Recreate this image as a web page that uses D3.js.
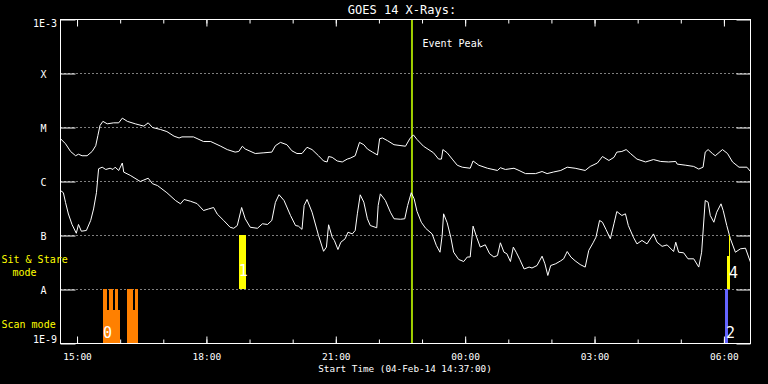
<!DOCTYPE html>
<html>
<head>
<meta charset="utf-8">
<script src="https://cdn.jsdelivr.net/npm/d3@7"></script>
<style>
  body { margin: 0; background: #000; }
  svg { display: block; }
  text { font-family: "DejaVu Sans Mono", monospace; fill: #fff; }
</style>
</head>
<body>
<svg id="chart" width="768" height="384"></svg>
<script>
// window of the plot (04-Feb-14 14:37 .. 05-Feb-14 06:37)
const startTime = '14:37';
const endTime = '06:37';
const eventPeak = '22:46';

// long channel (1-8 A), upper curve
const longTimes = [
  '14:37','14:44','14:51','14:58','15:02','15:07','15:14','15:21','15:26','15:29',
  '15:32','15:36','15:42','15:51','15:58','16:03','16:10','16:21','16:33','16:39',
  '16:45','16:56','17:05','17:15','17:22','17:26','17:42','17:56','18:06','18:20',
  '18:29','18:40','18:45','18:50','18:54','19:08','19:20','19:31','19:36','19:43',
  '19:52','19:59','20:06','20:13','20:20','20:27','20:36','20:43','20:48','20:50',
  '20:55','21:02','21:09','21:16','21:20','21:27','21:33','21:39','21:44','21:51',
  '21:58','22:01','22:05','22:12','22:21','22:37','22:43','22:48','22:53','23:02',
  '23:16','23:23','23:27','23:29','23:35','23:42','23:49','23:56','00:07','00:11',
  '00:19','00:31','00:45','00:49','00:56','01:08','01:15','01:24','01:38','01:47',
  '01:54','02:03','02:13','02:22','02:33','02:47','02:54','03:04','03:11','03:20',
  '03:27','03:31','03:38','03:44','03:50','03:59','04:11','04:22','04:32','04:43',
  '04:53','04:55','05:07','05:18','05:25','05:31','05:34','05:38','05:44','05:48',
  '05:58','06:05','06:12','06:21','06:32','06:37'
];
const longFlux = [
  6.2e-6, 5.0e-6, 3.6e-6, 3.0e-6, 3.2e-6, 3.0e-6, 3.0e-6, 3.6e-6, 4.6e-6, 7.1e-6,
  1.09e-5, 1.3e-5, 1.17e-5, 1.22e-5, 1.22e-5, 1.49e-5, 1.3e-5, 1.17e-5, 1.06e-5, 1.22e-5,
  1.0e-5, 9.2e-6, 8.4e-6, 6.9e-6, 6.4e-6, 6.7e-6, 6.7e-6, 5.5e-6, 5.5e-6, 4.5e-6,
  3.9e-6, 3.5e-6, 3.6e-6, 4.5e-6, 4.0e-6, 3.3e-6, 3.4e-6, 3.5e-6, 4.6e-6, 5.3e-6,
  4.8e-6, 3.7e-6, 3.3e-6, 3.3e-6, 4.3e-6, 3.9e-6, 3.0e-6, 2.4e-6, 2.3e-6, 2.9e-6,
  2.8e-6, 2.4e-6, 2.3e-6, 2.6e-6, 2.7e-6, 3.0e-6, 5.3e-6, 4.8e-6, 4.0e-6, 3.5e-6,
  3.1e-6, 6.2e-6, 6.4e-6, 5.7e-6, 4.8e-6, 4.5e-6, 6.2e-6, 7.3e-6, 6.0e-6, 4.5e-6,
  3.4e-6, 2.6e-6, 2.6e-6, 3.9e-6, 3.4e-6, 2.6e-6, 2.0e-6, 1.84e-6, 1.76e-6, 2.4e-6,
  2.0e-6, 1.76e-6, 1.6e-6, 1.8e-6, 1.67e-6, 1.76e-6, 1.6e-6, 1.4e-6, 1.4e-6, 1.53e-6,
  1.4e-6, 1.5e-6, 1.6e-6, 1.84e-6, 1.76e-6, 1.6e-6, 1.9e-6, 2.2e-6, 2.9e-6, 2.45e-6,
  2.8e-6, 3.5e-6, 3.6e-6, 3.9e-6, 3.3e-6, 2.6e-6, 2.3e-6, 2.55e-6, 2.35e-6, 2.3e-6,
  2.35e-6, 2.1e-6, 2.0e-6, 1.9e-6, 1.7e-6, 1.84e-6, 3.5e-6, 3.9e-6, 3.3e-6, 3.0e-6,
  3.9e-6, 3.3e-6, 2.3e-6, 1.84e-6, 1.84e-6, 1.53e-6
];

// short channel (0.5-4 A), lower curve
const shortTimes = [
  '14:37','14:41','14:44','14:48','14:53','14:59','15:02','15:06','15:13','15:19',
  '15:23','15:27','15:30','15:35','15:40','15:46','15:50','15:53','15:58','16:03',
  '16:05','16:14','16:28','16:39','16:45','16:52','17:05','17:17','17:24','17:29',
  '17:38','17:47','17:56','18:03','18:10','18:15','18:24','18:33','18:38','18:43',
  '18:49','18:54','19:01','19:11','19:18','19:25','19:31','19:36','19:41','19:48',
  '19:57','20:04','20:08','20:13','20:16','20:20','20:27','20:36','20:43','20:47',
  '20:50','20:55','20:58','21:03','21:07','21:13','21:17','21:23','21:27','21:30',
  '21:34','21:39','21:44','21:48','21:57','21:59','22:02','22:09','22:16','22:21',
  '22:30','22:36','22:40','22:45','22:49','22:53','22:59','23:05','23:14','23:20',
  '23:25','23:28','23:30','23:35','23:40','23:44','23:51','23:58','00:03','00:07',
  '00:11','00:16','00:21','00:28','00:34','00:40','00:45','00:49','00:54','00:58',
  '01:03','01:07','01:11','01:16','01:22','01:29','01:33','01:40','01:47','01:51',
  '01:55','01:59','02:06','02:13','02:17','02:22','02:27','02:33','02:40','02:47',
  '02:52','02:58','03:02','03:07','03:11','03:16','03:22','03:27','03:31','03:38',
  '03:43','03:47','03:54','03:59','04:06','04:13','04:22','04:27','04:34','04:41',
  '04:50','04:53','04:57','05:04','05:10','05:18','05:25','05:29','05:34','05:38',
  '05:41','05:46','05:50','05:56','05:59','06:04','06:09','06:16','06:23','06:30',
  '06:37'
];
const shortFlux = [
  6.8e-7, 6.2e-7, 4.1e-7, 2.5e-7, 1.6e-7, 1.1e-7, 1.6e-7, 1.2e-7, 1.24e-7, 1.9e-7,
  3.1e-7, 6.2e-7, 1.72e-6, 1.84e-6, 1.67e-6, 1.76e-6, 1.67e-6, 1.84e-6, 1.6e-6, 2.2e-6,
  1.49e-6, 1.3e-6, 1.0e-6, 1.15e-6, 9.1e-7, 8.4e-7, 6.2e-7, 4.45e-7, 3.86e-7, 4.64e-7,
  4.3e-7, 3.9e-7, 2.9e-7, 3.1e-7, 3.3e-7, 2.5e-7, 1.9e-7, 1.42e-7, 1.36e-7, 1.53e-7,
  3.3e-7, 2.04e-7, 1.42e-7, 1.36e-7, 1.65e-7, 1.6e-7, 1.9e-7, 4.1e-7, 5.7e-7, 4.45e-7,
  2.35e-7, 1.53e-7, 1.49e-7, 1.3e-7, 3.6e-7, 4.64e-7, 2.7e-7, 1.0e-7, 5.1e-8, 6.1e-8,
  1.58e-7, 9.3e-8, 8.1e-8, 5.5e-8, 7.5e-8, 8.7e-8, 1.15e-7, 1.07e-7, 1.24e-7, 2.52e-7,
  5.67e-7, 4.14e-7, 2.04e-7, 1.53e-7, 1.39e-7, 3.6e-7, 5.9e-7, 4.45e-7, 2.7e-7, 2.04e-7,
  2.0e-7, 2.04e-7, 3.6e-7, 6.2e-7, 4.78e-7, 2.8e-7, 1.76e-7, 1.36e-7, 1.07e-7, 6.5e-8,
  4.9e-8, 1.0e-7, 2.52e-7, 1.72e-7, 9.3e-8, 4.9e-8, 3.6e-8, 3.3e-8, 4.0e-8, 4.0e-8,
  1.49e-7, 9.3e-8, 6.1e-8, 6.73e-8, 4.6e-8, 4.0e-8, 4.26e-8, 7.33e-8, 4.9e-8, 4.6e-8,
  3.3e-8, 6.1e-8, 4.9e-8, 3.6e-8, 2.4e-8, 2.6e-8, 2.5e-8, 2.78e-8, 4.14e-8, 2.99e-8,
  1.82e-8, 2.78e-8, 3.0e-8, 3.4e-8, 3.7e-8, 5.05e-8, 4.0e-8, 3.4e-8, 2.9e-8, 2.6e-8,
  5.3e-8, 7.33e-8, 9.3e-8, 1.9e-7, 1.76e-7, 1.29e-7, 8.7e-8, 1.65e-7, 2.78e-7, 2.35e-7,
  2.52e-7, 1.53e-7, 9.3e-8, 7.0e-8, 8.1e-8, 7.0e-8, 1.07e-7, 7.5e-8, 6.3e-8, 6.7e-8,
  5.05e-8, 7.5e-8, 4.9e-8, 4.78e-8, 3.7e-8, 3.7e-8, 2.6e-8, 4.9e-8, 4.45e-7, 4.14e-7,
  2.35e-7, 1.76e-7, 2.7e-7, 3.86e-7, 2.9e-7, 1.53e-7, 8.7e-8, 4.9e-8, 5.67e-8, 5.82e-8,
  3.2e-8
];

// observing mode bars
const modeKind  = ['scan','scan','scan','scan','scan','scan','scan','scan','scan','stare','other','stare','stare'];
const modeStart = ['15:37','15:42','15:45','15:51','15:53','15:58','16:10','16:18','16:21','18:46','06:02','06:05','06:08'];
const modeEnd   = ['15:42','15:45','15:51','15:53','15:58','16:00','16:18','16:21','16:25','18:56','06:06','06:08','06:09'];
const modeLow   = [1e-9, 1e-9, 1e-9, 1e-9, 1e-9, 1e-9, 1e-9, 1e-9, 1e-9, 1e-8, 1e-9, 1e-8, 1e-8];
const modeHigh  = [1e-8, 4.1e-9, 1e-8, 4.1e-9, 1e-8, 4.1e-9, 1e-8, 4.1e-9, 1e-8, 1e-7, 1e-8, 4.05e-8, 1e-7];

// mode numbers
const modeLabels = ['0', '1', '2', '4'];
const modeLabelTimes = ['15:43', '18:52', '06:10', '06:14'];
const modeLabelFlux = [1.25e-9, 1.73e-8, 1.25e-9, 1.63e-8];

// axis values
const yTickValues = [1e-9, 1e-8, 1e-7, 1e-6, 1e-5, 1e-4, 1e-3];
const yTickLabels = ['1E-9', 'A', 'B', 'C', 'M', 'X', '1E-3'];
const gridValues = [1e-8, 1e-7, 1e-6, 1e-5, 1e-4];

const modeColor = { scan: '#ff8000', stare: '#ffff00', other: '#6464ff' };

function parseT(s) {
  const [h, m] = s.split(':').map(Number);
  return new Date(2014, 1, h < 12 ? 5 : 4, h, m);
}

const margin = { top: 19, right: 18, bottom: 41, left: 60 };
const width = 768 - margin.left - margin.right;
const height = 384 - margin.top - margin.bottom;

const svg = d3.select('#chart');
svg.append('rect').attr('width', 768).attr('height', 384).attr('fill', '#000');

const g = svg.append('g')
  .attr('transform', 'translate(' + (margin.left + 0.5) + ',' + (margin.top + 0.5) + ')');

const x = d3.scaleTime()
  .domain([parseT(startTime), parseT(endTime)])
  .range([0, width]);

const y = d3.scaleLog()
  .domain([1e-9, 1e-3])
  .range([height, 0]);

g.append('clipPath').attr('id', 'plot-clip')
  .append('rect').attr('width', width).attr('height', height);

// dotted grid
g.selectAll('.grid')
  .data(gridValues)
  .enter().append('line')
  .attr('class', 'grid')
  .attr('x1', 0).attr('x2', width)
  .attr('y1', d => y(d)).attr('y2', d => y(d))
  .attr('stroke', '#fff')
  .attr('stroke-dasharray', '1,3');

// mode bars
const modes = modeKind.map((k, i) => ({
  kind: k, t0: parseT(modeStart[i]), t1: parseT(modeEnd[i]), lo: modeLow[i], hi: modeHigh[i]
}));

svg.append('g')
  .attr('transform', 'translate(' + margin.left + ',' + margin.top + ')')
  .selectAll('rect')
  .data(modes)
  .enter().append('rect')
  .attr('x', d => x(d.t0))
  .attr('width', d => x(d.t1) - x(d.t0))
  .attr('y', d => y(d.hi))
  .attr('height', d => y(d.lo) - y(d.hi))
  .attr('fill', d => modeColor[d.kind])
  .attr('shape-rendering', 'crispEdges');

// event peak marker
g.append('line')
  .attr('x1', x(parseT(eventPeak))).attr('x2', x(parseT(eventPeak)))
  .attr('y1', 0).attr('y2', height)
  .attr('stroke', '#a0d000')
  .attr('stroke-width', 2);

g.append('text')
  .attr('x', x(parseT(eventPeak)) + 10.5)
  .attr('y', 27)
  .style('font-size', '10px')
  .text('Event Peak');

// flux curves
const line = d3.line()
  .x(d => x(d.t))
  .y(d => y(d.f));

const longData = longTimes.map((t, i) => ({ t: parseT(t), f: longFlux[i] }));
const shortData = shortTimes.map((t, i) => ({ t: parseT(t), f: shortFlux[i] }));

[longData, shortData].forEach(series => {
  g.append('path')
    .datum(series)
    .attr('clip-path', 'url(#plot-clip)')
    .attr('fill', 'none')
    .attr('stroke', '#fff')
    .attr('stroke-width', 1)
    .attr('d', line);
});

// time axes (major every 3 h, minor every hour), top and bottom
function timeAxis(axisFn, every, size, ty) {
  const a = g.append('g')
    .attr('transform', 'translate(0,' + ty + ')')
    .style('color', '#fff')
    .call(axisFn(x).ticks(d3.timeHour.every(every)).tickSize(size).tickFormat(''));
  a.select('.domain').remove();
  return a;
}
timeAxis(d3.axisBottom, 1, -4, height);
timeAxis(d3.axisTop, 1, -4, 0);
timeAxis(d3.axisTop, 3, -7, 0);
const xMajor = timeAxis(d3.axisBottom, 3, -7, height);

xMajor.selectAll('.tick')
  .append('text')
  .attr('y', 16)
  .attr('text-anchor', 'middle')
  .style('font-size', '9.5px')
  .text(d => d3.timeFormat('%H:%M')(d));

// flux axes, left and right
[[d3.axisLeft, 0, -15], [d3.axisRight, width, -14]].forEach(([fn, tx, size]) => {
  const a = g.append('g')
    .attr('transform', 'translate(' + tx + ',0)')
    .style('color', '#fff')
    .call(fn(y).tickValues(yTickValues).tickSize(size).tickFormat(''));
  a.select('.domain').remove();
});

// frame
g.append('rect')
  .attr('width', width).attr('height', height)
  .attr('fill', 'none').attr('stroke', '#fff');

// flux labels
svg.append('g')
  .selectAll('text')
  .data(yTickValues)
  .enter().append('text')
  .attr('x', (d, i) => (i === 0 || i === yTickValues.length - 1) ? 57 : 43.5)
  .attr('y', (d, i) => {
    const ty = margin.top + y(d);
    if (i === 0) return ty;
    if (i === yTickValues.length - 1) return ty + 8;
    return ty + 5;
  })
  .attr('text-anchor', (d, i) => (i === 0 || i === yTickValues.length - 1) ? 'end' : 'middle')
  .style('font-size', '10px')
  .text((d, i) => yTickLabels[i]);

// mode numbers
svg.append('g')
  .attr('transform', 'translate(' + margin.left + ',' + margin.top + ')')
  .selectAll('text')
  .data(modeLabels)
  .enter().append('text')
  .attr('x', (d, i) => x(parseT(modeLabelTimes[i])))
  .attr('y', (d, i) => y(modeLabelFlux[i]))
  .attr('text-anchor', 'middle')
  .style('font-size', '15px')
  .text(d => d);

// mode legend
const legend = svg.append('g').style('font-size', '10px');
legend.append('text').attr('x', 1.5).attr('y', 262.5).style('fill', '#ffff00').text('Sit & Stare');
legend.append('text').attr('x', 12.5).attr('y', 275.5).style('fill', '#ffff00').text('mode');
legend.append('text').attr('x', 1.5).attr('y', 327.5).style('fill', '#ffff00').text('Scan mode');

// titles
svg.append('text')
  .attr('x', 402).attr('y', 13.5)
  .attr('text-anchor', 'middle')
  .style('font-size', '12px')
  .text('GOES 14 X-Rays:');

svg.append('text')
  .attr('x', margin.left + width / 2).attr('y', 371.5)
  .attr('text-anchor', 'middle')
  .style('font-size', '9.3px')
  .text('Start Time (04-Feb-14 14:37:00)');
</script>
</body>
</html>
